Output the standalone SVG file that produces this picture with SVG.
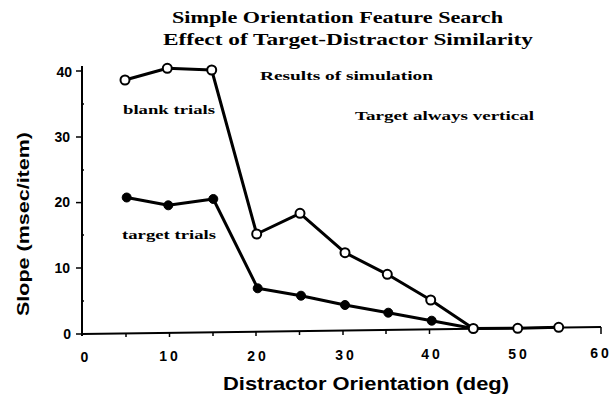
<svg xmlns="http://www.w3.org/2000/svg" width="611" height="400" viewBox="0 0 611 400">
<style>
.serif{font-family:"Liberation Serif","DejaVu Serif",serif;font-weight:bold;fill:#000}
.sans{font-family:"Liberation Sans","DejaVu Sans",sans-serif;font-weight:bold;fill:#000}
.axis{stroke:#000;stroke-width:2;fill:none}
.tick{stroke:#000;stroke-width:1.5;fill:none}
.series{stroke:#000;stroke-width:3;fill:none;stroke-linejoin:round}
.open{fill:#fff;stroke:#000;stroke-width:2}
.filled{fill:#000;stroke:#000;stroke-width:1}
</style>
<rect width="611" height="400" fill="#fff"/>
<g id="title">
<text class="serif" x="172" y="23" font-size="17" textLength="331" lengthAdjust="spacingAndGlyphs">Simple Orientation Feature Search</text>
<text class="serif" x="163" y="45" font-size="17" textLength="370" lengthAdjust="spacingAndGlyphs">Effect of Target-Distractor Similarity</text>
</g>
<g id="axes">
<line class="axis" x1="82" y1="66" x2="82" y2="336"/>
<line class="axis" x1="82" y1="334" x2="601" y2="327"/>
<line class="tick" x1="601" y1="327" x2="601" y2="334"/>
<g class="tick">
<line x1="76" y1="334" x2="82" y2="334"/>
<line x1="76" y1="268" x2="82" y2="268"/>
<line x1="76" y1="202.6" x2="82" y2="202.6"/>
<line x1="76" y1="137" x2="82" y2="137"/>
<line x1="76" y1="71" x2="82" y2="71"/>
<line x1="82" y1="301" x2="84" y2="301"/>
<line x1="82" y1="235" x2="84" y2="235"/>
<line x1="82" y1="170" x2="84" y2="170"/>
<line x1="82" y1="104" x2="84" y2="104"/>
<line x1="126" y1="333.4" x2="126" y2="337"/>
<line x1="169.5" y1="332.8" x2="169.5" y2="337"/>
<line x1="213" y1="332.3" x2="213" y2="336"/>
<line x1="256" y1="331.7" x2="256" y2="336"/>
<line x1="299.5" y1="331.1" x2="299.5" y2="335"/>
<line x1="343" y1="330.5" x2="343" y2="335"/>
<line x1="386" y1="329.9" x2="386" y2="334"/>
<line x1="429.5" y1="329.3" x2="429.5" y2="334"/>
<line x1="473" y1="328.7" x2="473" y2="333"/>
<line x1="516" y1="328.2" x2="516" y2="333"/>
<line x1="559" y1="327.6" x2="559" y2="332"/>
</g>
<g class="sans" font-size="14" text-anchor="end">
<text x="72" y="77">40</text>
<text x="70" y="142">30</text>
<text x="70" y="207">20</text>
<text x="70" y="273">10</text>
<text x="71" y="339">0</text>
</g>
<g class="sans" font-size="14" text-anchor="middle" letter-spacing="3">
<text x="86" y="362">0</text>
<text x="170" y="361">10</text>
<text x="258" y="361">20</text>
<text x="346" y="360">30</text>
<text x="432" y="359">40</text>
<text x="519" y="359">50</text>
<text x="601" y="358">60</text>
</g>
<text class="sans" x="223" y="390" font-size="18" textLength="286" lengthAdjust="spacingAndGlyphs">Distractor Orientation (deg)</text>
<text class="sans" transform="translate(29,316) rotate(-90)" font-size="16" textLength="184" lengthAdjust="spacingAndGlyphs">Slope (msec/item)</text>
</g>
<g id="connectors">
<polyline class="series" points="125,80 167.3,68.3 211.7,70 256.7,234 300,213.3 345,252.7 387.3,274.3 430.7,300 473.3,328.5 517.7,328.3 558.7,327.3"/>
<polyline class="series" points="126.7,197.5 168.3,205.3 213.3,199 257.7,288.3 301,295.7 345,305 388.3,312.7 431.7,320.7 473.3,328.5"/>
</g>
<g id="blank-trials">
<circle class="open" cx="125" cy="80" r="4.5"/>
<circle class="open" cx="167.3" cy="68.3" r="4.5"/>
<circle class="open" cx="211.7" cy="70" r="4.5"/>
<circle class="open" cx="256.7" cy="234" r="4.5"/>
<circle class="open" cx="300" cy="213.3" r="4.5"/>
<circle class="open" cx="345" cy="252.7" r="4.5"/>
<circle class="open" cx="387.3" cy="274.3" r="4.5"/>
<circle class="open" cx="430.7" cy="300" r="4.5"/>
<circle class="open" cx="473.3" cy="328.5" r="4.5"/>
<circle class="open" cx="517.7" cy="328.3" r="4.5"/>
<circle class="open" cx="558.7" cy="327.3" r="4.5"/>
</g>
<g id="target-trials">
<circle class="filled" cx="126.7" cy="197.5" r="4.5"/>
<circle class="filled" cx="168.3" cy="205.3" r="4.5"/>
<circle class="filled" cx="213.3" cy="199" r="4.5"/>
<circle class="filled" cx="257.7" cy="288.3" r="4.5"/>
<circle class="filled" cx="301" cy="295.7" r="4.5"/>
<circle class="filled" cx="345" cy="305" r="4.5"/>
<circle class="filled" cx="388.3" cy="312.7" r="4.5"/>
<circle class="filled" cx="431.7" cy="320.7" r="4.5"/>
</g>
<g id="labels">
<text class="serif" x="123" y="114" font-size="13" textLength="92" lengthAdjust="spacingAndGlyphs">blank trials</text>
<text class="serif" x="122" y="239" font-size="13" textLength="94" lengthAdjust="spacingAndGlyphs">target trials</text>
<text class="serif" x="260" y="80" font-size="12" textLength="173" lengthAdjust="spacingAndGlyphs">Results of simulation</text>
<text class="serif" x="355" y="120" font-size="12" textLength="179" lengthAdjust="spacingAndGlyphs">Target always vertical</text>
</g>
</svg>
